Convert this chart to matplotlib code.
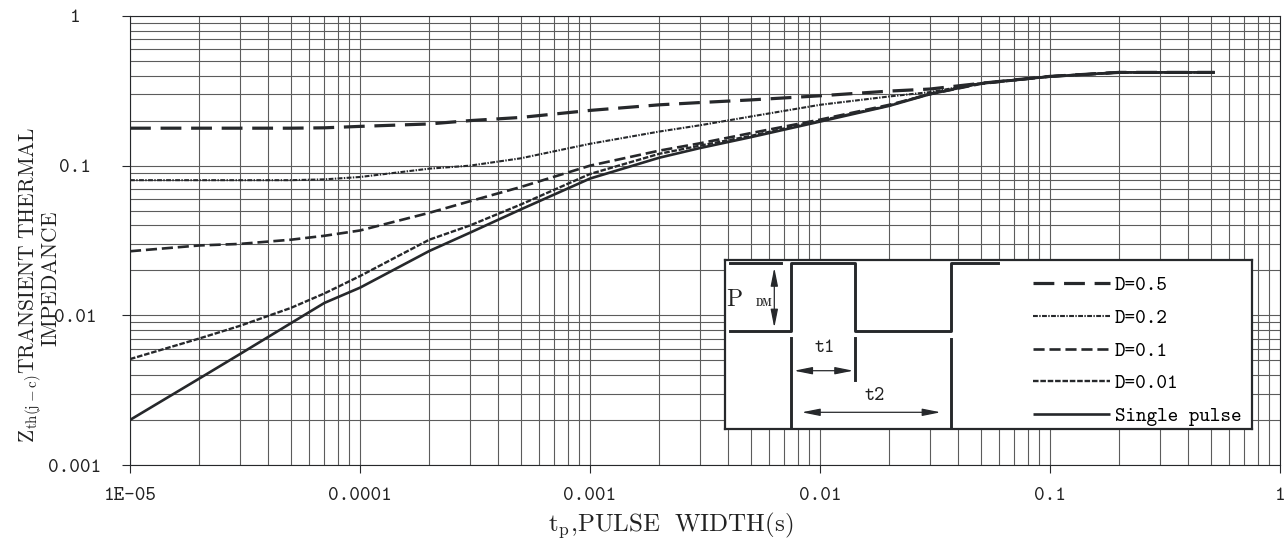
import matplotlib
matplotlib.use("Agg")
import matplotlib.pyplot as plt
from matplotlib.ticker import NullFormatter

plt.rcParams["mathtext.fontset"] = "cm"
plt.rcParams["lines.scale_dashes"] = False

W, H = 1285, 538
INK = "#26282b"
GRID = "#5c5c5c"

# pulse width (s) sampled along the curves
TP = [1e-5, 2e-5, 3e-5, 5e-5, 7e-5, 1e-4, 2e-4, 3e-4, 5e-4, 1e-3,
      2e-3, 3e-3, 5e-3, 1e-2, 2e-2, 3e-2, 5e-2, 0.1, 0.2, 0.52]

# Zth(j-c) for each duty cycle
Z_D05 = [0.178, 0.178, 0.178, 0.178, 0.179, 0.183, 0.190, 0.200, 0.210, 0.234,
         0.255, 0.264, 0.275, 0.293, 0.315, 0.325, 0.355, 0.395, 0.420, 0.420]
Z_D02 = [0.080, 0.080, 0.080, 0.080, 0.081, 0.084, 0.0955, 0.100, 0.112, 0.140,
         0.169, 0.186, 0.213, 0.255, 0.290, 0.310, 0.355, 0.395, 0.420, 0.420]
Z_D01 = [0.0268, 0.0293, 0.030, 0.032, 0.034, 0.0369, 0.0484, 0.0578, 0.072, 0.100,
         0.126, 0.141, 0.165, 0.203, 0.255, 0.300, 0.352, 0.395, 0.420, 0.420]
Z_D001 = [0.0051, 0.0070, 0.0085, 0.0112, 0.014, 0.0183, 0.032, 0.0398, 0.055, 0.088,
          0.120, 0.136, 0.158, 0.200, 0.252, 0.303, 0.355, 0.395, 0.420, 0.420]
Z_SINGLE = [0.0020, 0.00378, 0.0055, 0.00885, 0.0121, 0.0153, 0.0269, 0.0356, 0.051, 0.082,
            0.113, 0.131, 0.155, 0.197, 0.251, 0.300, 0.355, 0.394, 0.420, 0.420]

X_TICKS = [1e-5, 1e-4, 1e-3, 1e-2, 1e-1, 1]
X_LABELS = ["1E-05", "0.0001", "0.001", "0.01", "0.1", "1"]
Y_TICKS = [1e-3, 1e-2, 1e-1, 1]
Y_LABELS = ["0.001", "0.01", "0.1", "1"]

SERIES = [
    ("D=0.5", Z_D05, dict(lw=2.3, dashes=(15, 7))),
    ("D=0.2", Z_D02, dict(lw=1.5, dashes=(3.5, 1.0, 1.0, 1.0))),
    ("D=0.1", Z_D01, dict(lw=1.9, dashes=(8, 3.5))),
    ("D=0.01", Z_D001, dict(lw=1.7, dashes=(4, 1.3))),
    ("Single pulse", Z_SINGLE, dict(lw=1.9)),
]

fig = plt.figure(figsize=(W / 100, H / 100), dpi=100)
ax = fig.add_axes([130 / W, 1 - 465 / H, 1150 / W, 449 / H])
ax.set_xscale("log")
ax.set_yscale("log")
ax.set_xlim(1e-5, 1)
ax.set_ylim(1e-3, 1)

lines = []
for name, z, style in SERIES:
    ln, = ax.plot(TP, z, color=INK, label=name, solid_capstyle="butt", **style)
    lines.append(ln)

ax.grid(which="both", color=GRID, lw=0.8)
ax.set_axisbelow(True)
ax.set_xticks(X_TICKS)
ax.set_xticklabels(X_LABELS)
ax.set_yticks(Y_TICKS)
ax.set_yticklabels(Y_LABELS)
ax.xaxis.set_minor_formatter(NullFormatter())
ax.yaxis.set_minor_formatter(NullFormatter())
ax.tick_params(which="minor", length=0)
ax.tick_params(axis="x", which="major", length=5.8, width=0.8, color=INK, pad=10)
ax.tick_params(axis="y", which="major", length=5.8, width=0.8, color=INK, pad=33.8)
for lab in ax.get_xticklabels() + ax.get_yticklabels():
    lab.set_family("cmtt10")
    lab.set_fontsize(14.5)
    lab.set_color("#222222")
for lab in ax.get_yticklabels():
    lab.set_horizontalalignment("center")
for s in ax.spines.values():
    s.set_color(INK)
    s.set_linewidth(0.8)

# axis titles
fig.text(17 / W, 95 / H, r"$\mathrm{Z_{th(j-c)}TRANSIENT\ THERMAL}$",
         rotation=90, ha="left", va="bottom", fontsize=15.4, color="#222222")
fig.text(41 / W, 191 / H, r"$\mathrm{IMPEDANCE}$",
         rotation=90, ha="left", va="bottom", fontsize=15.4, color="#222222")
fig.text(671 / W, 7 / H, r"$\mathrm{t_p{,}PULSE\ \ WIDTH(s)}$",
         ha="center", va="baseline", fontsize=18, color="#222222")

# inset: duty cycle waveform and line key
ax_in = fig.add_axes([725 / W, 1 - 429 / H, 527 / W, 169 / H])
ax_in.set_xlim(0, 527)
ax_in.set_ylim(169, 0)
ax_in.set_xticks([])
ax_in.set_yticks([])
for s in ax_in.spines.values():
    s.set_color(INK)
    s.set_linewidth(1.6)

PULSE_U = [5, 65.7, 65.7, 130, 130, 225.7, 225.7, 273]
PULSE_V = [71, 71, 3.3, 3.3, 71, 71, 3.3, 3.3]
ax_in.plot(PULSE_U, PULSE_V, color=INK, lw=2.1)
ax_in.plot([5, 56], [3.3, 3.3], color=INK, lw=2.1)
ax_in.plot([65.7, 65.7], [78, 169], color=INK, lw=2.1)
ax_in.plot([130, 130], [78, 120], color=INK, lw=2.1)
ax_in.plot([225.7, 225.7], [79, 169], color=INK, lw=2.1)

arrow = dict(arrowstyle="<|-|>,head_length=1.1,head_width=0.22", mutation_scale=10,
             color=INK, lw=0.9, shrinkA=0, shrinkB=0)
ax_in.annotate("", xy=(49.3, 7.7), xytext=(49.3, 67.7), arrowprops=arrow)
ax_in.annotate("", xy=(69, 110.7), xytext=(128.3, 110.7), arrowprops=arrow)
ax_in.annotate("", xy=(76.7, 152.3), xytext=(215.7, 152.3), arrowprops=arrow)

ax_in.text(100, 88, "t1", family="cmtt10", fontsize=14, ha="center", va="center", color="#222222")
ax_in.text(150, 136, "t2", family="cmtt10", fontsize=14, ha="center", va="center", color="#222222")
ax_in.text(1, 40, "P", family="cmr10", fontsize=17, ha="left", va="center", color="#222222")
ax_in.text(39, 43.5, "DM", family="cmb10", fontsize=7, ha="center", va="center", color="#222222")

ax_in.legend(handles=lines, loc="upper left", bbox_to_anchor=(308, 16),
             bbox_transform=ax_in.transData, frameon=False,
             prop={"family": "cmtt10", "size": 14.5},
             handlelength=3.8, handletextpad=0.25, labelspacing=0.68,
             borderpad=0, borderaxespad=0)

fig.savefig("out.png", dpi=100)
